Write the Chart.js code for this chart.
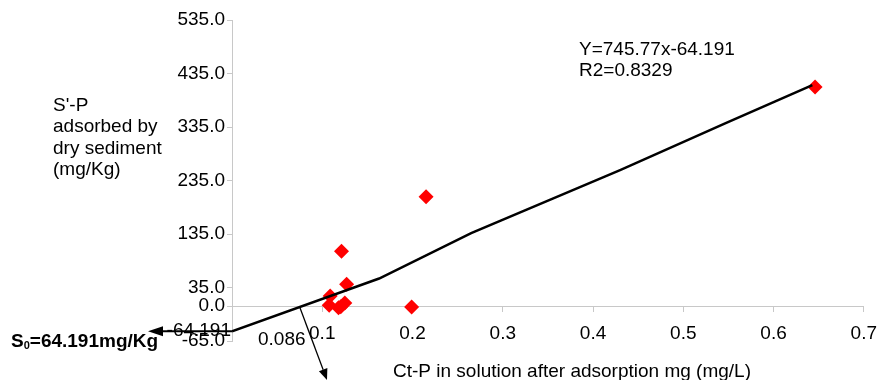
<!DOCTYPE html>
<html>
<head>
<meta charset="utf-8">
<script src="https://cdn.jsdelivr.net/npm/chart.js@4.4.1/dist/chart.umd.min.js"></script>
<style>
  html, body { margin: 0; padding: 0; background: #fff; }
  canvas { display: block; }
</style>
</head>
<body>
<canvas id="sorption" width="888" height="380"></canvas>
<script>
// measured points: Ct-P (mg/L) vs S'-P (mg/Kg)
const ctP = [0.1088, 0.1077, 0.118, 0.1205, 0.125, 0.127, 0.1213, 0.199, 0.215, 0.646];
const sP = [19.3, 1.9, -3, -1, 6.2, 41.2, 102.9, -1.3, 204.4, 410];

// trend line as drawn in the figure
const fitX = [0, 0.163, 0.265, 0.43, 0.547, 0.643];
const fitY = [-46.8, 51.8, 136.5, 254.4, 342.3, 413.4];

const xTicks = [0, 0.1, 0.2, 0.3, 0.4, 0.5, 0.6, 0.7];
const yTicks = [-65, 0, 35, 135, 235, 335, 435, 535];

const yTitleLines = ["S'-P", 'adsorbed by', 'dry sediment', '(mg/Kg)'];
const xTitle = 'Ct-P in solution after adsorption mg (mg/L)';
const equationText = 'Y=745.77x-64.191';
const r2Text = 'R2=0.8329';
const interceptText = '-64.191';
const crossText = '0.086';

const FONT = '"Liberation Sans", Arial, sans-serif';
Chart.defaults.font.family = FONT;
Chart.defaults.font.size = 19;
Chart.defaults.color = '#000';

const drawArrow = (ctx, x1, y1, x2, y2, lw, headLen, headHalf) => {
    const a = Math.atan2(y2 - y1, x2 - x1);
    const c = Math.cos(a), s = Math.sin(a);
    ctx.lineWidth = lw;
    ctx.beginPath();
    ctx.moveTo(x1, y1);
    ctx.lineTo(x2 - c * headLen, y2 - s * headLen);
    ctx.stroke();
    ctx.beginPath();
    ctx.moveTo(x2, y2);
    ctx.lineTo(x2 - c * headLen - s * headHalf, y2 - s * headLen + c * headHalf);
    ctx.lineTo(x2 - c * headLen + s * headHalf, y2 - s * headLen - c * headHalf);
    ctx.closePath();
    ctx.fill();
};

const notesPlugin = {
    id: 'notes',
    afterDraw(chart) {
        const { ctx, scales: { x, y } } = chart;
        ctx.save();
        ctx.fillStyle = '#000';
        ctx.strokeStyle = '#000';
        ctx.textBaseline = 'alphabetic';
        ctx.textAlign = 'left';
        ctx.font = '19px ' + FONT;

        yTitleLines.forEach((t, i) => ctx.fillText(t, 53, 111 + i * 21.4));
        ctx.fillText(xTitle, 393, 376.5);
        ctx.fillText(equationText, 579, 55);
        ctx.fillText(r2Text, 579, 75.7);
        ctx.fillText(crossText, 258, 345);

        ctx.textAlign = 'right';
        ctx.fillText(interceptText, 231, 335.5);

        // arrow to the intercept
        const x0 = x.getPixelForValue(fitX[0]);
        const y0 = y.getPixelForValue(fitY[0]);
        drawArrow(ctx, x0, y0, 148, y0, 2, 15, 5);

        // arrow from where the line crosses zero
        const ax = 0.075;
        const ay = fitY[0] + (fitY[1] - fitY[0]) * (ax - fitX[0]) / (fitX[1] - fitX[0]);
        drawArrow(ctx, x.getPixelForValue(ax), y.getPixelForValue(ay), 327, 380, 1.3, 11, 4.5);

        // S0 label
        ctx.textAlign = 'left';
        ctx.font = 'bold 19px ' + FONT;
        ctx.fillText('S', 11, 346.5);
        let w = ctx.measureText('S').width;
        ctx.font = 'bold 11px ' + FONT;
        ctx.fillText('0', 11 + w, 348.5);
        w += ctx.measureText('0').width;
        ctx.font = 'bold 19px ' + FONT;
        ctx.fillText('=64.191mg/Kg', 11 + w, 346.5);
        ctx.restore();
    }
};

new Chart(document.getElementById('sorption'), {
    type: 'scatter',
    data: {
        datasets: [
            {
                label: 'fit',
                data: fitX.map((v, i) => ({ x: v, y: fitY[i] })),
                showLine: true,
                borderColor: '#000',
                borderWidth: 2.5,
                pointRadius: 0,
                order: 0
            },
            {
                label: "S'-P",
                data: ctP.map((v, i) => ({ x: v, y: sP[i] })),
                pointStyle: 'rectRot',
                pointRadius: 7.5,
                backgroundColor: '#ff0000',
                borderWidth: 0,
                order: 1
            }
        ]
    },
    options: {
        responsive: false,
        animation: false,
        layout: { padding: { left: 0, right: 19, top: 20, bottom: 39 } },
        plugins: {
            legend: { display: false },
            tooltip: { enabled: false }
        },
        scales: {
            x: {
                type: 'linear',
                min: 0,
                max: 0.7,
                position: { y: 0 },
                afterBuildTicks: (scale) => { scale.ticks = xTicks.map(v => ({ value: v })); },
                grid: { drawOnChartArea: false, tickLength: 5, color: '#c8c8c8' },
                border: { color: '#c8c8c8', width: 1 },
                ticks: {
                    padding: 11,
                    autoSkip: false,
                    maxRotation: 0,
                    callback: (v) => v === 0 ? '' : Number(v).toFixed(1)
                }
            },
            y: {
                type: 'linear',
                min: -65,
                max: 535,
                afterBuildTicks: (scale) => { scale.ticks = yTicks.map(v => ({ value: v })); },
                afterFit: (scale) => { scale.width = 232; },
                grid: { drawOnChartArea: false, tickLength: 5, color: '#c8c8c8' },
                border: { color: '#c8c8c8', width: 1 },
                ticks: {
                    padding: 2,
                    autoSkip: false,
                    callback: (v) => Number(v).toFixed(1)
                }
            }
        }
    },
    plugins: [notesPlugin]
});
</script>
</body>
</html>
